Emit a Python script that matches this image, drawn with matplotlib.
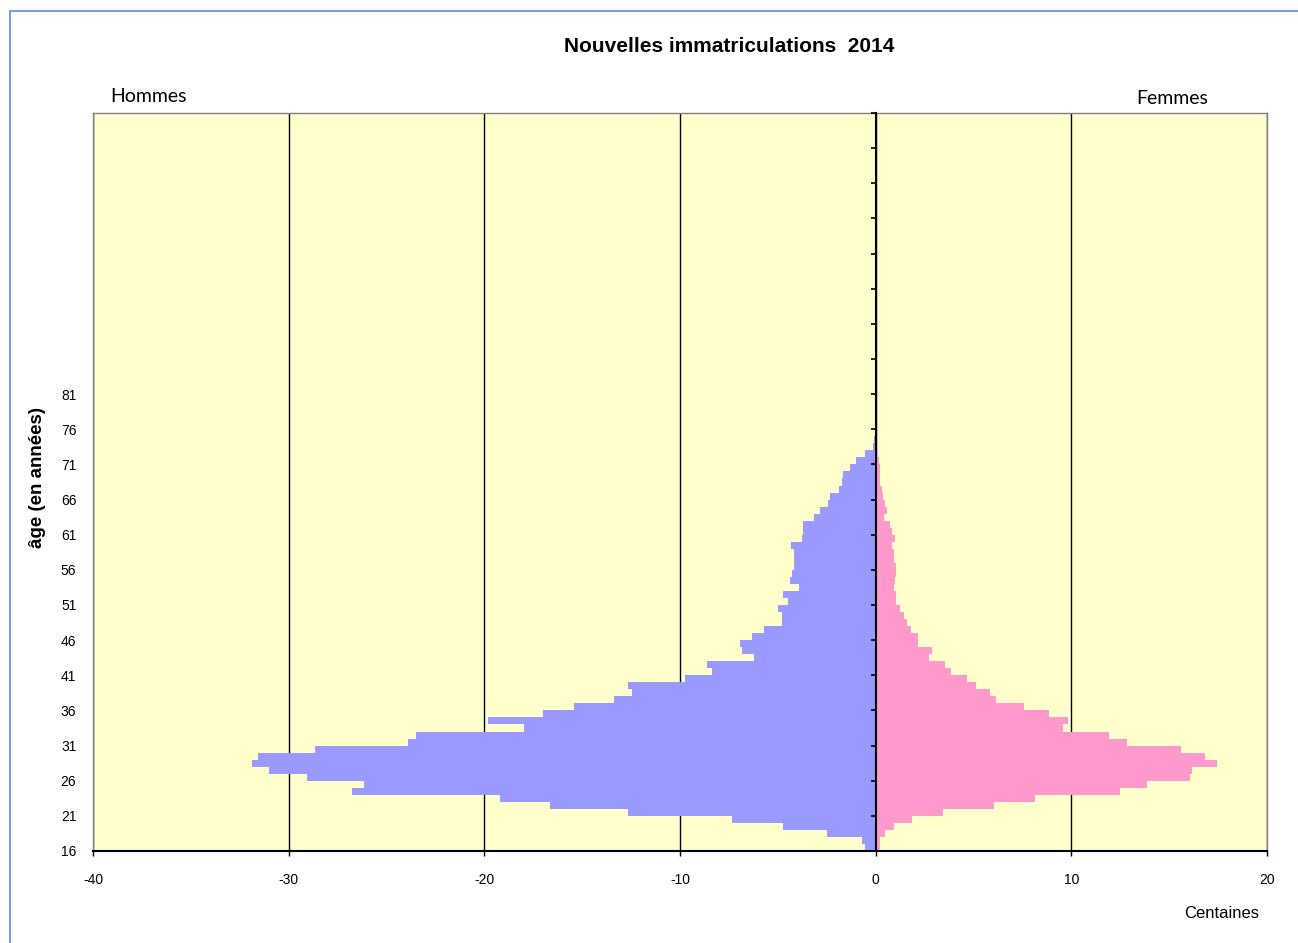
import matplotlib
matplotlib.use("Agg")
import matplotlib.pyplot as plt
from matplotlib.patches import Rectangle
import numpy as np

plt.rcParams['font.family'] = ['Liberation Sans', 'DejaVu Sans']

# ---- data (centaines) ----
ages = list(range(16, 97))  # 16 .. 96
hommes = [
    -0.56, -0.70, -2.49, -4.73, -7.32, -12.66, -16.66, -19.18, -26.74, -26.16,
    -29.06, -31.03, -31.87, -31.58, -28.65, -23.88, -23.47, -17.97, -19.79, -17.00,
    -15.43, -13.39, -12.45, -12.64, -9.72, -8.35, -8.62, -6.23, -6.85, -6.92,
    -6.30, -5.69, -4.81, -4.81, -5.00, -4.46, -4.73, -3.92, -4.39, -4.26,
    -4.19, -4.19, -4.19, -4.33, -3.78, -3.71, -3.71, -3.17, -2.83, -2.42,
    -2.35, -1.87, -1.74, -1.67, -1.33, -0.99, -0.56, -0.15, -0.08, -0.05,
    -0.04, -0.03, -0.02, -0.02, -0.01, -0.01, -0.01, -0.01, -0.01, -0.01,
    -0.01, -0.03, -0.01, -0.01, -0.01, -0.01, -0.01, -0.01, -0.01, -0.03,
    -0.01,
]
femmes = [
    0.20, 0.24, 0.46, 0.92, 1.87, 3.44, 6.03, 8.16, 12.50, 13.87,
    16.05, 16.18, 17.46, 16.85, 15.62, 12.85, 11.90, 9.57, 9.85, 8.84,
    7.60, 6.17, 5.83, 5.14, 4.67, 3.85, 3.53, 2.71, 2.90, 2.15,
    2.15, 1.80, 1.60, 1.46, 1.26, 1.06, 1.06, 0.95, 0.99, 1.06,
    1.06, 0.92, 0.92, 0.85, 0.99, 0.85, 0.72, 0.44, 0.58, 0.48,
    0.37, 0.34, 0.24, 0.24, 0.24, 0.17, 0.10, 0.05, 0.04, 0.03,
    0.02, 0.02, 0.01, 0.03, 0.01, 0.01, 0.01, 0.03, 0.01, 0.01,
    0.01, 0.01, 0.01, 0.01, 0.01, 0.03, 0.01, 0.01, 0.01, 0.01,
    0.01,
]
x_ticks = [-40, -30, -20, -10, 0, 10, 20]
y_ticks = list(range(16, 122, 5))
y_labels = [str(a) if a <= 81 else "" for a in y_ticks]

title = "Nouvelles immatriculations  2014"

# ---- figure ----
W, H = 1298, 943
fig = plt.figure(figsize=(W / 100, H / 100), dpi=100)
fig.patch.set_facecolor('white')

ax = fig.add_axes([93 / W, 1 - 851 / H, (1267 - 93) / W, (851 - 113) / H])
ax.set_facecolor('#FFFFCC')

ax.barh(ages, hommes, height=1.0, align='edge', color='#9999FF', linewidth=0, zorder=2)
ax.barh(ages, femmes, height=1.0, align='edge', color='#FF99CC', linewidth=0, zorder=2)

ax.set_xlim(-40, 20)
ax.set_ylim(16, 121)

ax.set_xticks(x_ticks)
ax.set_xticklabels([str(v) for v in x_ticks], fontsize=10)
ax.tick_params(axis='x', direction='out', length=3.5, width=1, color='black', pad=12)
ax.xaxis.grid(True, color='black', linewidth=1.0, zorder=1)
ax.set_axisbelow(True)

ax.set_yticks(y_ticks)
ax.set_yticklabels(y_labels, fontsize=10)
ax.tick_params(axis='y', length=0, pad=12)

for s in ['top', 'left', 'right']:
    ax.spines[s].set_color('#808080')
    ax.spines[s].set_linewidth(1.0)
ax.spines['bottom'].set_color('black')
ax.spines['bottom'].set_linewidth(1.5)

# y axis at x = 0
xmin, xmax = ax.get_xlim()
loc0 = (0 - xmin) / (xmax - xmin)
sec = ax.secondary_yaxis(loc0)
sec.set_alignment('left')
sec.set_yticks(y_ticks)
sec.tick_params(axis='y', direction='out', length=3.5, width=1.2, color='black', labelleft=False, labelright=False)
sec.spines['left'].set_color('black')
sec.spines['left'].set_linewidth(1.5)
sec.set_zorder(5)

# texts
fig.text(729 / W, 1 - 47 / H, title, fontsize=15, fontweight='bold', ha='center', va='center')
fig.text(148 / W, 1 - 97 / H, "Hommes", fontsize=14, family=['Lato', 'DejaVu Sans'], ha='center', va='center')
fig.text(1172 / W, 1 - 98 / H, "Femmes", fontsize=14, family=['Lato', 'DejaVu Sans'], ha='center', va='center')
fig.text(38 / W, 1 - 477 / H, "âge (en années)", fontsize=13.5, fontweight='bold', rotation=90, ha='center', va='center')
fig.text(1222 / W, 1 - 914 / H, "Centaines", fontsize=12, ha='center', va='center')

# outer frame
fig.add_artist(Rectangle((10 / W, -0.1), 2.0, 1 - 11 / H + 0.1, transform=fig.transFigure,
                         fill=False, edgecolor='#5B8FD8', linewidth=1.2))

fig.savefig('out.png', dpi=100)
